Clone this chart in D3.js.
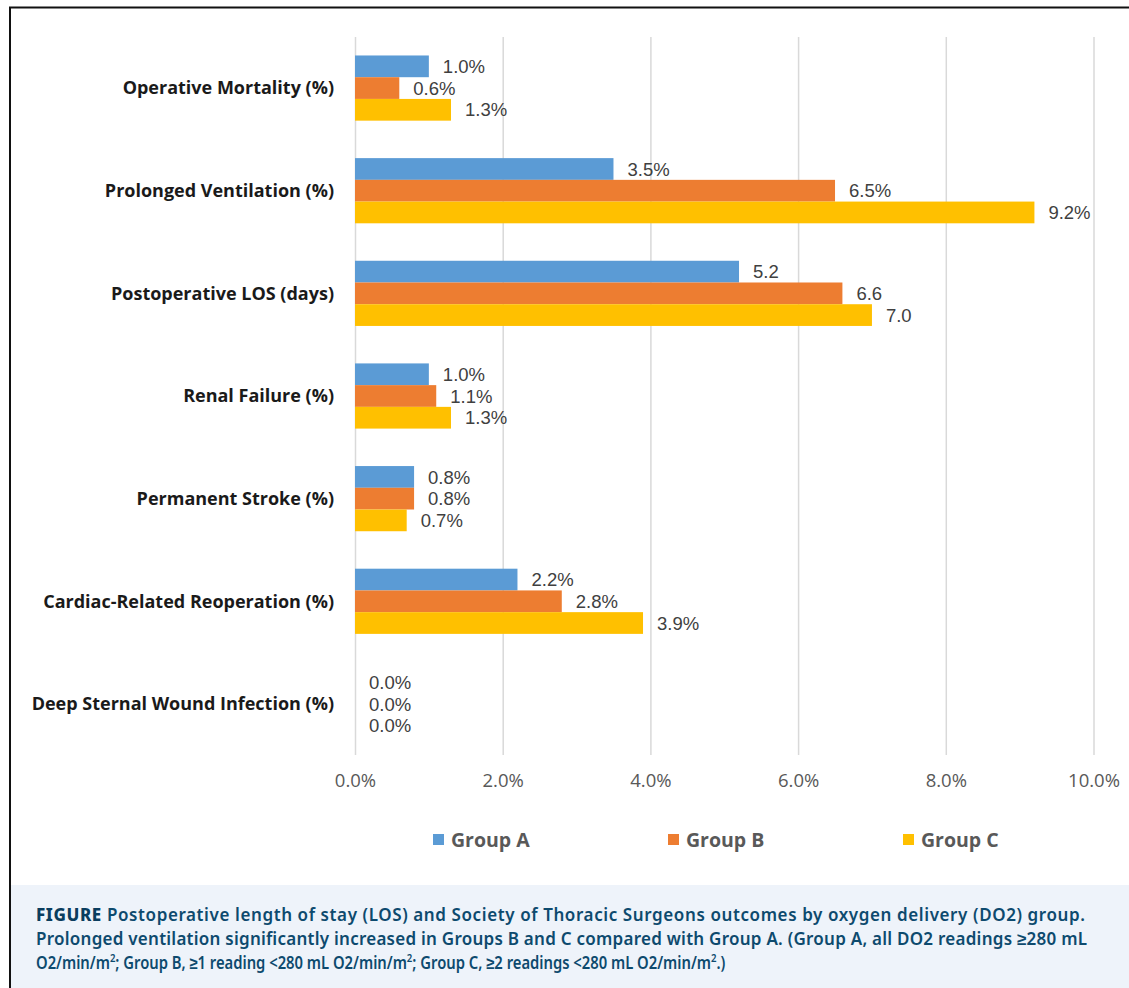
<!DOCTYPE html>
<html>
<head>
<meta charset="utf-8">
<script src="https://cdn.jsdelivr.net/npm/d3@7"></script>
<style>
  html, body { margin: 0; padding: 0; background: #fff; }
  svg { display: block; }
</style>
</head>
<body>
<svg id="chart" width="1129" height="988"></svg>
<script>
const categories = [
  "Operative Mortality (%)",
  "Prolonged Ventilation (%)",
  "Postoperative LOS (days)",
  "Renal Failure (%)",
  "Permanent Stroke (%)",
  "Cardiac-Related Reoperation (%)",
  "Deep Sternal Wound Infection (%)"
];
const seriesNames = ["Group A", "Group B", "Group C"];
const groupA = [1.0, 3.5, 5.2, 1.0, 0.8, 2.2, 0.0];
const groupB = [0.6, 6.5, 6.6, 1.1, 0.8, 2.8, 0.0];
const groupC = [1.3, 9.2, 7.0, 1.3, 0.7, 3.9, 0.0];
const isPercent = [true, true, false, true, true, true, true];
const tickValues = [0, 2, 4, 6, 8, 10];
const colors = ["#5b9bd5", "#ed7d31", "#ffc000"];

const seriesValues = [groupA, groupB, groupC];

const svg = d3.select("#chart");

// frame
svg.append("rect").attr("x", 10).attr("y", 7.5).attr("width", 1140).attr("height", 1000)
  .attr("fill", "#fff").attr("stroke", "#111").attr("stroke-width", 2);

// caption background
svg.append("rect").attr("x", 11).attr("y", 885).attr("width", 1118).attr("height", 103)
  .attr("fill", "#eef3fa");

const x = d3.scaleLinear().domain([0, 10]).range([355, 1093.5]);
const y = d3.scaleBand().domain(categories).range([37, 755]).paddingInner(0.365).paddingOuter(0.18);
const ySub = d3.scaleBand().domain(seriesNames).range([0, y.bandwidth()]);

// gridlines
svg.append("g").selectAll("line").data(tickValues).join("line")
  .attr("x1", d => x(d) + 0.5).attr("x2", d => x(d) + 0.5)
  .attr("y1", 37).attr("y2", 755)
  .attr("stroke", "#d9d9d9").attr("stroke-width", 1.5);

// x axis labels
const xAxis = d3.axisBottom(x).tickValues(tickValues).tickSize(0).tickPadding(0)
  .tickFormat(d => d3.format(".1f")(d) + "%");
const gx = svg.append("g").attr("transform", "translate(0,774)").call(xAxis);
gx.select(".domain").remove();
gx.selectAll("text").attr("font-family", "'Open Sans', sans-serif").attr("font-size", 18.5)
  .attr("fill", "#595959");

// y axis labels
const yAxis = d3.axisLeft(y).tickSize(0).tickPadding(0);
const gy = svg.append("g").attr("transform", "translate(334,0)").call(yAxis);
gy.select(".domain").remove();
gy.selectAll("text").attr("font-family", "'Open Sans', sans-serif").attr("font-weight", "bold")
  .attr("font-size", 18).attr("fill", "#1a1a1a").attr("dy", "0.35em");

// bars
const groups = svg.append("g").selectAll("g").data(categories).join("g")
  .attr("transform", d => `translate(0,${y(d)})`);

groups.each(function(cat, ci) {
  const g = d3.select(this);
  seriesNames.forEach((s, si) => {
    const v = seriesValues[si][ci];
    g.append("rect")
      .attr("x", x(0)).attr("y", ySub(s))
      .attr("width", x(v) - x(0)).attr("height", ySub.bandwidth())
      .attr("fill", colors[si]);
    g.append("text")
      .attr("x", x(v) + 14).attr("y", ySub(s) + ySub.bandwidth() / 2)
      .attr("dy", "0.36em")
      .attr("font-family", "'Liberation Sans', Arial, sans-serif").attr("font-size", 18.5)
      .attr("fill", "#404040")
      .text(d3.format(".1f")(v) + (isPercent[ci] ? "%" : ""));
  });
});

// legend
const legendX = [433, 668, 903];
const lg = svg.append("g").selectAll("g").data(seriesNames).join("g")
  .attr("transform", (d, i) => `translate(${legendX[i]},840)`);
lg.append("rect").attr("x", 0).attr("y", -6).attr("width", 11).attr("height", 11)
  .attr("fill", (d, i) => colors[i]);
lg.append("text").attr("x", 18).attr("y", 0).attr("dy", "0.35em")
  .attr("font-family", "'Open Sans', sans-serif").attr("font-weight", "bold").attr("font-size", 19.5)
  .attr("fill", "#595959").text(d => d);

// caption
const cap = svg.append("g").attr("font-family", "'Noto Sans', sans-serif").attr("font-size", 17)
  .attr("fill", "#0d4a6e");
const l1 = cap.append("text").attr("x", 36).attr("y", 921)
  .attr("textLength", 1049).attr("lengthAdjust", "spacing");
l1.append("tspan").attr("font-weight", 800).attr("fill", "#0a3d5e").text("FIGURE");
l1.append("tspan").attr("font-weight", 600).text("  Postoperative length of stay (LOS) and Society of Thoracic Surgeons outcomes by oxygen delivery (DO2) group.");
const l2 = cap.append("text").attr("x", 36).attr("y", 945).attr("font-weight", 600)
  .attr("textLength", 1051).attr("lengthAdjust", "spacing")
  .text("Prolonged ventilation significantly increased in Groups B and C compared with Group A. (Group A, all DO2 readings \u2265280 mL");
const l3g = cap.append("g");
const l3 = l3g.append("text").attr("x", 0).attr("y", 0).attr("font-weight", 600);
l3.append("tspan").text("O2/min/m");
l3.append("tspan").attr("dy", -7).attr("font-size", 11).text("2");
l3.append("tspan").attr("dy", 7).text("; Group B, \u22651 reading <280 mL O2/min/m");
l3.append("tspan").attr("dy", -7).attr("font-size", 11).text("2");
l3.append("tspan").attr("dy", 7).text("; Group C, \u22652 readings <280 mL O2/min/m");
l3.append("tspan").attr("dy", -7).attr("font-size", 11).text("2");
l3.append("tspan").attr("dy", 7).text(".)");
const l3w = l3.node().getBBox().width;
const sx = Math.min(1, 690 / l3w);
l3g.attr("transform", `translate(36,969) scale(${sx},1)`);
</script>
</body>
</html>
